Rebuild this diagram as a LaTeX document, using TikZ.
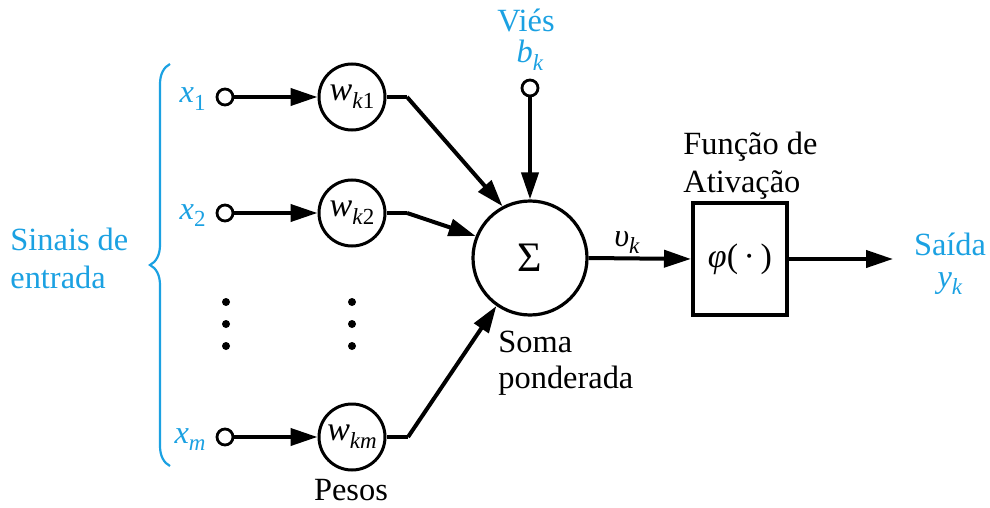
\documentclass[tikz,border=0pt]{standalone}
\usepackage{fontspec}
\setmainfont{Liberation Serif}
\usetikzlibrary{arrows.meta,decorations.pathreplacing,calc}
\definecolor{sigblue}{RGB}{27,161,226}
% italic symbol with a lowered subscript
\newcommand\sym[2]{\textit{#1}\raisebox{-0.5ex}{\fontsize{11.5}{11.5}\selectfont #2}}
\begin{document}
\begin{tikzpicture}[x=0.5pt,y=-0.5pt,
  font=\fontsize{16.2}{18}\selectfont,
  txt/.style={inner sep=0pt},
  conn/.style={line width=2pt,-{Triangle[length=13.5pt,width=8.5pt]}},
  wire/.style={line width=2pt},
  terminal/.style={circle,draw,line width=1.4pt,fill=white,minimum size=8pt,inner sep=0pt},
  weight/.style={circle,draw,line width=1.5pt,minimum size=33pt,inner sep=0pt,font=\fontsize{17}{18}\selectfont},
  blue/.style={text=sigblue},
  dot/.style={circle,fill=black,minimum size=4pt,inner sep=0pt}]
\useasboundingbox (0,0) rectangle (990,508);

% input signals
\node[txt,blue,anchor=base west] (in1) at (10,250) {Sinais de};
\node[txt,blue,anchor=base west] (in2) at (10,288) {entrada};
\draw[sigblue,line width=1.1pt,decorate,decoration={brace,amplitude=10pt,aspect=0.5}]
  (170,466) -- (170,64);

\node[txt,blue,anchor=base east] (lx1) at (206,103) {\sym{x}{1}};
\node[txt,blue,anchor=base east] (lx2) at (206,219) {\sym{x}{2}};
\node[txt,blue,anchor=base east] (lxm) at (206,443) {\sym{x}{\textit{m}}};

\node[terminal] (x1) at (225,97) {};
\node[terminal] (x2) at (225,213) {};
\node[terminal] (xm) at (225,437) {};

% weights
\node[weight] (w1) at (352,97) {\sym{w}{\textit{k}1}};
\node[weight] (w2) at (352,213) {\sym{w}{\textit{k}2}};
\node[weight] (wm) at (352,437) {\sym{w}{\textit{km}}};
\node[txt,anchor=base] (pesos) at (351,500) {Pesos};

\draw[conn] (x1) -- (w1);
\draw[conn] (x2) -- (w2);
\draw[conn] (xm) -- (wm);

% ellipsis dots
\foreach \y [count=\i] in {302,324,346}{
  \node[dot] (da\i) at (226,\y) {};
  \node[dot] (db\i) at (352,\y) {};
}

% summing junction
\node[circle,draw,line width=1.6pt,minimum size=57pt,inner sep=0pt] (sum) at (530,258)
  {\fontsize{21}{21}\selectfont Σ};
\node[txt,anchor=base west] (soma1) at (498,352) {Soma};
\node[txt,anchor=base west] (soma2) at (498,388) {ponderada};

\coordinate (b1) at (407,97);
\coordinate (b2) at (407,213);
\coordinate (bm) at (408,437);
\draw[wire] (w1.east) -- (b1);
\draw[conn] (b1) -- (sum.118);
\draw[wire] (w2.east) -- (b2);
\draw[conn] (b2) -- (sum.158);
\draw[wire] (wm.east) -- (bm);
\draw[conn] (bm) -- (sum.235);

% bias
\node[txt,blue,anchor=base] (vies) at (526,32) {Viés};
\node[txt,blue,anchor=base] (bk) at (530,63) {\sym{b}{\textit{k}}};
\node[terminal] (bias) at (530,88) {};
\draw[conn] (bias) -- (sum.north);

% activation
\node[draw,line width=2pt,minimum width=47pt,minimum height=56pt,inner sep=0pt,
  font=\fontsize{17}{18}\selectfont] (phi) at (740,259) {\textit{φ}(\,·\,)};
\node[txt,anchor=base west] (fa1) at (683,155) {Função de};
\node[txt,anchor=base west] (fa2) at (683,192) {Ativação};

\draw[conn] (sum.east) -- (phi.west);
\node[txt,anchor=base] (vk) at (627,246) {\sym{υ}{\textit{k}}};

% output
\coordinate (out) at (893,259);
\draw[conn] (phi.east) -- (out);
\node[txt,blue,anchor=base] (said) at (950,255) {Saída};
\node[txt,blue,anchor=base] (yk) at (950,287) {\sym{y}{\textit{k}}};
\end{tikzpicture}
\end{document}
